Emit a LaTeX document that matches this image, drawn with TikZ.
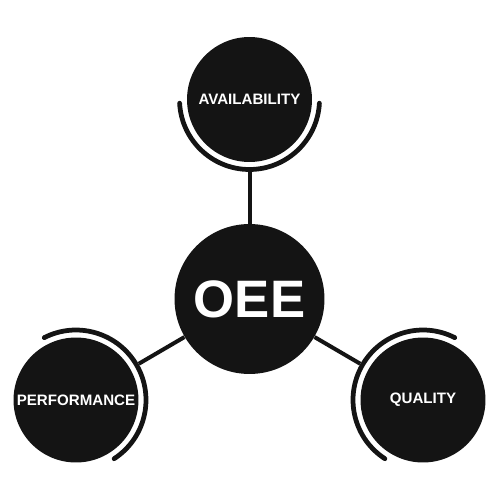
\documentclass[tikz,border=0pt]{standalone}
\usepackage{fontspec}
\setmainfont{Liberation Sans}
\begin{document}
\begin{tikzpicture}[x=0.02cm,y=-0.02cm]
\tikzset{
  disc/.style={circle,fill=black!92,draw=none,inner sep=0pt,text=white,font=\bfseries\fontsize{8.6}{10}\selectfont},
  link/.style={line width=0.08cm,black!92},
  ring/.style={line width=0.095cm,black!92,line cap=round}
}
\useasboundingbox (0,0) rectangle (500,500);
\node[disc,minimum size=3cm,font=\bfseries\fontsize{30}{35}\selectfont] (oee) at (249.5,299) {OEE};
\node[disc,minimum size=2.5cm] (av) at (249.5,99.5) {AVAILABILITY};
\node[disc,minimum size=2.5cm] (pf) at (76,400) {PERFORMANCE};
\node[disc,minimum size=2.5cm] (ql) at (423,400) {QUALITY};
% rings (radius 70px = 1.4cm)
\draw[ring] ([shift={(-177:1.4cm)}]av.center) arc[start angle=-177,end angle=-3,radius=1.4cm];
\draw[ring] ([shift={(-57:1.4cm)}]pf.center) arc[start angle=-57,end angle=117,radius=1.4cm];
\draw[ring] ([shift={(63:1.4cm)}]ql.center) arc[start angle=63,end angle=237,radius=1.4cm];
% connectors
\coordinate (avr) at ([shift={(-90:1.45cm)}]av.center);
\coordinate (pfr) at ([shift={(30:1.45cm)}]pf.center);
\coordinate (qlr) at ([shift={(150:1.45cm)}]ql.center);
\draw[link] (oee) -- (avr);
\draw[link] (oee) -- (pfr);
\draw[link] (oee) -- (qlr);
\end{tikzpicture}
\end{document}
